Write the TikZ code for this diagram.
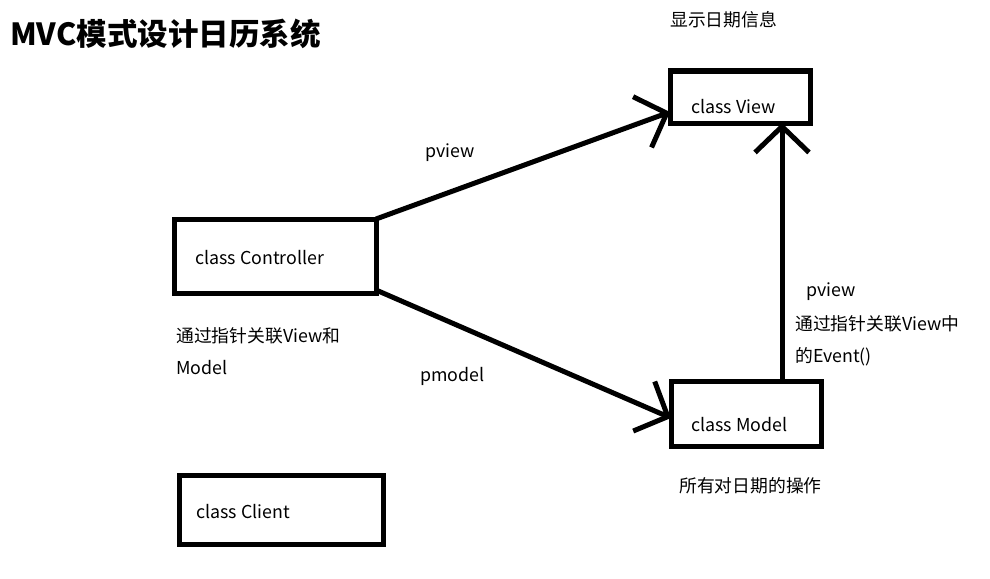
\documentclass[tikz,border=0pt]{standalone}
\usepackage{fontspec}
\setmainfont{Noto Sans CJK SC}
\usetikzlibrary{arrows.meta}

\begin{document}
\begin{tikzpicture}[x=1pt, y=-1pt,
    box/.style={draw, line width=5pt, rectangle, inner sep=0pt, outer sep=0pt},
    link/.style={line width=5pt, -{Straight Barb[length=26pt, width=54pt]}},
    txt/.style={anchor=west, inner sep=0pt, font=\fontsize{17.8}{32}\selectfont, align=left}]

    % Fix the size of the page
    \useasboundingbox (0,0) rectangle (990,578);

    % Draw the four class boxes
    \node[box, minimum width=140pt, minimum height=52pt] (view) at (740,97) {};
    \node[box, minimum width=202pt, minimum height=74pt] (ctrl) at (275,256) {};
    \node[box, minimum width=150pt, minimum height=65pt] (model) at (746,413.5) {};
    \node[box, minimum width=204pt, minimum height=69pt] (client) at (281,509.5) {};

    % Names of the classes inside the boxes
    \node[txt] (viewname) at (691,107) {class View};
    \node[txt] (ctrlname) at (195,258) {class Controller};
    \node[txt] (modelname) at (691,425) {class Model};
    \node[txt] (clientname) at (196,512) {class Client};

    % Draw the pointer from the controller to the view
    \draw[link] (ctrl.north east) -- ([yshift=-15pt]view.west);

    % Draw the pointer from the controller to the model
    \draw[link] ([yshift=3pt]ctrl.south east) -- ([yshift=-4.5pt]model.west);

    % Draw the vertical pointer from the model up to the view
    \coordinate (up) at ([xshift=-39pt]model.north east);
    \draw[link] (up) -- (up |- view.south);

    % Add the title and the notes exactly as shown in the image
    \node[anchor=west, inner sep=0pt, font=\fontsize{30.5}{34}\selectfont\bfseries] (title) at (10,34) {MVC模式设计日历系统};
    \node[txt] (viewnote) at (670,20) {显示日期信息};
    \node[txt] (pview) at (425,153) {pview};
    \node[txt] (ctrlnote) at (176,351) {通过指针关联View和\\Model};
    \node[txt] (pmodel) at (420,376) {pmodel};
    \node[txt] (pviewup) at (806,292) {pview};
    \node[txt] (modelnote) at (795,340.5) {通过指针关联View中\\的Event()};
    \node[txt] (modelops) at (679,486) {所有对日期的操作};

\end{tikzpicture}
\end{document}
